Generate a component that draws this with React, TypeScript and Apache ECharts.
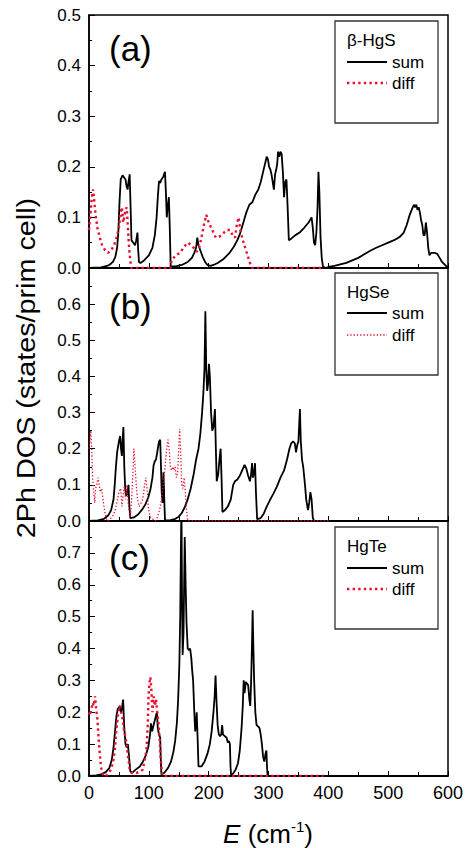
import React, { useEffect, useRef } from "react";
import * as echarts from "echarts";

const FONT = "'Liberation Sans', Arial, Helvetica, sans-serif";
const RED = "#e8102e";

// Panel titles / legend labels
const panelLabels = ["(a)", "(b)", "(c)"];
const materials = ["β-HgS", "HgSe", "HgTe"];
const seriesNames = ["sum", "diff"];
const yMax = [0.5, 0.7, 0.8];
const xTicks = [0, 100, 200, 300, 400, 500, 600];

// (a) beta-HgS
const hgsSum: number[][] = [
  [0, 0], [20, 0.001], [30, 0.004], [35, 0.007], [40, 0.012], [44, 0.022], [47, 0.04], [49, 0.07], [51, 0.13], [53, 0.175],
  [56, 0.183], [58, 0.18], [61, 0.175], [63, 0.16], [64.5, 0.155], [66, 0.17], [68, 0.185], [69.5, 0.12], [71, 0.055], [74, 0.05],
  [77, 0.045], [79, 0.055], [81, 0.07], [82, 0.04], [83.5, 0.012], [86, 0.01], [92, 0.015], [100, 0.025], [106, 0.04], [110, 0.065],
  [113, 0.1], [115, 0.14], [117, 0.172], [119, 0.168], [121, 0.175], [124, 0.18], [127, 0.19], [128.5, 0.15], [130, 0.1], [131.5, 0.12],
  [133.5, 0.14], [135, 0.08], [136.5, 0.003], [145, 0.003], [155, 0.006], [165, 0.012], [172, 0.02], [176, 0.03], [179, 0.04], [181, 0.06],
  [183, 0.045], [186, 0.035], [190, 0.022], [194, 0.012], [198, 0.006], [203, 0.004], [208, 0.006], [215, 0.01], [225, 0.018], [235, 0.03],
  [242, 0.042], [248, 0.055], [253, 0.07], [258, 0.09], [263, 0.11], [268, 0.125], [273, 0.13], [278, 0.145], [283, 0.155], [287, 0.17],
  [291, 0.19], [294, 0.205], [297, 0.22], [299, 0.215], [301, 0.2], [303, 0.195], [305, 0.185], [307, 0.17], [309, 0.155], [311, 0.185],
  [313, 0.195], [314.5, 0.205], [316, 0.23], [318, 0.22], [320, 0.23], [322, 0.225], [324, 0.19], [326, 0.14], [328, 0.17], [330, 0.175],
  [332, 0.12], [334, 0.055], [338, 0.058], [345, 0.065], [352, 0.07], [360, 0.08], [367, 0.09], [372, 0.1], [374, 0.08], [376, 0.05],
  [378, 0.045], [380, 0.07], [382, 0.12], [383.5, 0.19], [385, 0.15], [387, 0.06], [389, 0.02], [391, 0.003], [395, 0], [400, 0.002],
  [410, 0.004], [420, 0.007], [430, 0.01], [440, 0.015], [450, 0.02], [460, 0.027], [470, 0.034], [480, 0.04], [490, 0.045], [500, 0.05],
  [510, 0.055], [520, 0.062], [526, 0.07], [531, 0.085], [536, 0.105], [540, 0.117], [543, 0.125], [545, 0.12], [547, 0.125], [549, 0.115],
  [551, 0.12], [553, 0.11], [555, 0.095], [557, 0.085], [559, 0.065], [561, 0.065], [563, 0.09], [565, 0.07], [567, 0.04], [569, 0.025],
  [572, 0.03], [578, 0.03], [582, 0.028], [586, 0.02], [590, 0.012], [595, 0.006], [600, 0],
];
const hgsDiff: number[][] = [
  [0, 0.075], [2, 0.1], [4, 0.13], [6, 0.15], [7, 0.155], [9, 0.13], [11, 0.105], [14, 0.08], [18, 0.06], [22, 0.045],
  [27, 0.035], [32, 0.03], [37, 0.035], [42, 0.045], [46, 0.06], [50, 0.08], [53, 0.11], [55, 0.12], [57, 0.09], [59, 0.1],
  [61, 0.115], [63, 0.12], [65, 0.08], [67, 0.04], [69, 0.015], [71, 0], [136, 0], [138, 0.015], [145, 0.025], [152, 0.03],
  [158, 0.04], [163, 0.048], [166, 0.05], [170, 0.045], [175, 0.04], [180, 0.032], [184, 0.04], [188, 0.06], [192, 0.085], [196, 0.105],
  [200, 0.09], [204, 0.08], [208, 0.07], [212, 0.06], [218, 0.062], [224, 0.068], [230, 0.075], [236, 0.075], [240, 0.065], [244, 0.06],
  [247, 0.085], [250, 0.1], [253, 0.075], [257, 0.055], [261, 0.04], [265, 0.025], [269, 0.01], [273, 0], [392, 0],
];

// (b) HgSe
const hgseSum: number[][] = [
  [0, 0], [15, 0.002], [25, 0.006], [32, 0.015], [37, 0.03], [41, 0.06], [43, 0.1], [45, 0.15], [47, 0.19], [48, 0.2],
  [50, 0.22], [52, 0.235], [53.5, 0.2], [55, 0.18], [56, 0.22], [57.5, 0.26], [59, 0.15], [60.5, 0.09], [62, 0.07], [64, 0.075],
  [66, 0.1], [67.5, 0.04], [69, 0.008], [75, 0.01], [82, 0.018], [88, 0.03], [94, 0.045], [99, 0.065], [103, 0.09], [106, 0.12],
  [108, 0.155], [110, 0.165], [112, 0.17], [114, 0.19], [117, 0.22], [119, 0.225], [120.5, 0.14], [121.5, 0.08], [123, 0.05], [124.5, 0.135],
  [126, 0.05], [127, 0.002], [135, 0.002], [143, 0.005], [150, 0.012], [155, 0.022], [160, 0.038], [165, 0.06], [170, 0.09], [175, 0.13],
  [179, 0.17], [183, 0.2], [186, 0.24], [189, 0.3], [191, 0.35], [193, 0.42], [194.5, 0.58], [196, 0.42], [197.5, 0.36], [199, 0.38],
  [200.5, 0.435], [202, 0.4], [204, 0.3], [206, 0.25], [208, 0.26], [210.5, 0.31], [212, 0.2], [213.5, 0.11], [216, 0.13], [218, 0.17],
  [220, 0.2], [221.5, 0.12], [223, 0.025], [227, 0.03], [232, 0.04], [237, 0.06], [241, 0.1], [244, 0.11], [248, 0.115], [252, 0.125],
  [256, 0.14], [260, 0.155], [263, 0.145], [266, 0.125], [269, 0.11], [271, 0.13], [272.5, 0.16], [274, 0.12], [276, 0.135], [277.5, 0.16],
  [279, 0.08], [281, 0.005], [287, 0.008], [292, 0.02], [297, 0.04], [303, 0.06], [308, 0.075], [314, 0.095], [320, 0.12], [326, 0.14],
  [331, 0.17], [335, 0.2], [338, 0.215], [341, 0.22], [344, 0.215], [346, 0.19], [348, 0.21], [350, 0.22], [352.5, 0.31], [354, 0.22],
  [356, 0.17], [358, 0.15], [361, 0.1], [363, 0.06], [366, 0.03], [368, 0.05], [370, 0.08], [372, 0.06], [374, 0.01], [376, 0], [600, 0],
];
const hgseDiff: number[][] = [
  [0, 0.2], [1.5, 0.22], [3, 0.25], [4.5, 0.2], [6, 0.12], [8, 0.08], [9.5, 0.05], [11, 0.09], [13, 0.1], [15, 0.12],
  [17, 0.1], [19, 0.08], [21, 0.09], [23, 0.065], [25, 0.04], [27, 0.02], [29, 0.005], [31, 0], [35, 0.005], [40, 0.015],
  [44, 0.03], [47, 0.055], [50, 0.08], [53, 0.09], [55, 0.04], [57, 0.07], [59, 0.095], [61, 0.06], [63, 0.1], [65, 0.06],
  [67, 0.03], [69, 0.01], [71, 0.05], [73, 0.12], [75, 0.2], [77, 0.15], [79, 0.1], [81, 0.06], [84, 0.04], [87, 0.05],
  [90, 0.06], [93, 0.1], [95, 0.12], [97, 0.09], [99, 0.04], [101, 0.02], [103, 0.01], [107, 0.005], [111, 0], [114, 0.01],
  [118, 0.03], [121, 0.06], [124, 0.1], [127, 0.15], [130, 0.2], [132, 0.225], [134, 0.2], [136, 0.15], [138, 0.14], [140, 0.15],
  [142, 0.14], [144, 0.15], [146, 0.12], [148, 0.13], [150, 0.2], [151.5, 0.255], [153, 0.2], [155, 0.1], [157, 0.09], [159, 0.12],
  [161, 0.08], [163, 0.03], [165, 0], [400, 0],
];

// (c) HgTe
const hgteSum: number[][] = [
  [0, 0], [12, 0.002], [20, 0.005], [28, 0.012], [34, 0.025], [38, 0.05], [41, 0.09], [44, 0.15], [46, 0.19], [48, 0.21],
  [50, 0.215], [52, 0.22], [53.5, 0.2], [55, 0.21], [57, 0.24], [59, 0.15], [61, 0.1], [63, 0.09], [65, 0.1], [66.5, 0.07],
  [69, 0.015], [72, 0.01], [78, 0.02], [85, 0.03], [90, 0.045], [95, 0.065], [99, 0.09], [102, 0.13], [103.5, 0.165], [105.5, 0.14],
  [108, 0.16], [110, 0.175], [112, 0.19], [113.5, 0.2], [115, 0.15], [117, 0.13], [119, 0.12], [120, 0.05], [121, 0.005], [126, 0.01],
  [132, 0.025], [137, 0.045], [141, 0.075], [144, 0.11], [147, 0.17], [149, 0.24], [151, 0.35], [152.5, 0.5], [153.5, 0.7], [154.5, 0.85],
  [155.5, 0.55], [156.5, 0.38], [158, 0.45], [159, 0.6], [160, 0.75], [161.5, 0.6], [163, 0.48], [165, 0.4], [167, 0.395], [169, 0.4],
  [171, 0.37], [172.5, 0.33], [174, 0.3], [176, 0.2], [177.5, 0.14], [179, 0.17], [180, 0.2], [181.5, 0.12], [183, 0.03], [188, 0.03],
  [193, 0.045], [198, 0.07], [202, 0.1], [205, 0.14], [208, 0.2], [210, 0.25], [211.5, 0.315], [213, 0.24], [215, 0.16], [217, 0.13],
  [219, 0.125], [221, 0.13], [222.5, 0.16], [224, 0.13], [227, 0.125], [230, 0.12], [232, 0.105], [234, 0.11], [235.5, 0.1], [236.5, 0.03],
  [237.5, 0.002], [241, 0.008], [245, 0.02], [249, 0.04], [252, 0.08], [255, 0.15], [257, 0.22], [258.5, 0.3], [260, 0.26], [262, 0.295],
  [264, 0.29], [266, 0.285], [268, 0.24], [269.5, 0.22], [271, 0.3], [272.5, 0.42], [273.5, 0.52], [274.5, 0.42], [276, 0.3], [278, 0.2],
  [280, 0.16], [283, 0.155], [285, 0.15], [287, 0.13], [289, 0.1], [291, 0.06], [293, 0.045], [295, 0.07], [296.5, 0.08], [297.5, 0.03],
  [298.5, 0], [600, 0],
];
const hgteDiff: number[][] = [
  [0, 0.2], [2, 0.19], [4, 0.21], [6, 0.23], [8, 0.22], [10, 0.25], [12, 0.21], [14, 0.18], [16, 0.12], [18, 0.07],
  [20, 0.03], [22, 0.01], [24, 0], [30, 0.003], [35, 0.015], [40, 0.04], [43, 0.08], [46, 0.15], [49, 0.2], [52, 0.22],
  [54, 0.2], [56, 0.18], [58, 0.15], [60, 0.13], [62, 0.11], [64, 0.08], [66, 0.05], [68, 0.02], [71, 0.01], [75, 0.008],
  [80, 0.01], [86, 0.015], [90, 0.02], [93, 0.05], [96, 0.08], [98, 0.15], [99.5, 0.25], [101, 0.29], [102.5, 0.31], [104, 0.28],
  [106, 0.2], [108, 0.25], [110, 0.22], [112, 0.24], [114, 0.2], [116, 0.17], [118, 0.12], [120, 0.05], [122, 0.01], [124, 0],
  [392, 0],
];

const sums = [hgsSum, hgseSum, hgteSum];
const diffs = [hgsDiff, hgseDiff, hgteDiff];

export default function App() {
  const ref = useRef<HTMLDivElement>(null);
  useEffect(() => {
    if (!ref.current) return;
    const chart = echarts.init(ref.current, undefined, { renderer: "svg" });

    const grids = [
      { left: 89, right: 23, top: 15, height: 253 },
      { left: 89, right: 23, top: 268, height: 253 },
      { left: 89, right: 23, top: 521, height: 255 },
    ].map((g) => ({ ...g, show: true, borderColor: "#000", borderWidth: 1.5, backgroundColor: "transparent" }));

    const xAxes = grids.map((_, i) => ({
      type: "value",
      gridIndex: i,
      min: xTicks[0],
      max: xTicks[xTicks.length - 1],
      interval: 100,
      axisLine: { show: true, lineStyle: { color: "#000", width: 1.5 } },
      axisTick: { show: true, inside: true, length: 5, lineStyle: { color: "#000", width: 1 } },
      minorTick: { show: true, splitNumber: 2, length: 4, lineStyle: { color: "#000", width: 1 } },
      splitLine: { show: false },
      axisLabel: {
        show: i === 2,
        color: "#000",
        fontSize: 18,
        fontFamily: FONT,
        margin: 8,
      },
    }));

    const yAxes = grids.map((_, i) => ({
      type: "value",
      gridIndex: i,
      min: 0,
      max: yMax[i],
      interval: 0.1,
      axisLine: { show: true, lineStyle: { color: "#000", width: 1.5 } },
      axisTick: { show: true, inside: true, length: 6, lineStyle: { color: "#000", width: 1 } },
      minorTick: { show: true, splitNumber: 2, length: 3, lineStyle: { color: "#000", width: 1 } },
      splitLine: { show: false },
      axisLabel: {
        show: true,
        color: "#000",
        fontSize: 17,
        fontFamily: FONT,
        margin: 8,
        showMaxLabel: i === 0,
        formatter: (v: number) => v.toFixed(1),
      },
    }));

    const series: any[] = [];
    grids.forEach((_, i) => {
      series.push({
        name: seriesNames[0],
        type: "line",
        xAxisIndex: i,
        yAxisIndex: i,
        data: sums[i],
        showSymbol: false,
        clip: true,
        lineStyle: { color: "#000", width: 1.8 },
        z: 3,
      });
      series.push({
        name: seriesNames[1],
        type: "line",
        xAxisIndex: i,
        yAxisIndex: i,
        data: diffs[i],
        showSymbol: false,
        clip: true,
        lineStyle:
          i === 1
            ? { color: RED, width: 1.3, type: [1.3, 2] }
            : { color: RED, width: 2.4, type: [2.4, 3.2] },
        z: 4,
      });
    });

    const legendBoxes = [
      { top: 21, title: 40, sum: 62, diff: 83 },
      { top: 273, title: 292, sum: 313, diff: 335 },
      { top: 527, title: 546, sum: 568, diff: 589 },
    ];
    const labelY = [48, 306, 557];

    const graphic: any[] = [];
    legendBoxes.forEach((b, i) => {
      graphic.push({
        type: "rect",
        shape: { x: 335, y: b.top, width: 103, height: 102 },
        style: { fill: "#fff", stroke: "#333", lineWidth: 1.3 },
        z: 10,
      });
      graphic.push({
        type: "text",
        x: 347,
        y: b.title,
        style: { text: materials[i], fontSize: 17, fontFamily: FONT, fill: "#000", verticalAlign: "middle", textVerticalAlign: "middle" },
        z: 11,
      });
      graphic.push({
        type: "line",
        shape: { x1: 347, y1: b.sum, x2: 387, y2: b.sum },
        style: { stroke: "#000", lineWidth: 1.8 },
        z: 11,
      });
      graphic.push({
        type: "line",
        shape: { x1: 347, y1: b.diff, x2: 387, y2: b.diff },
        style: i === 1
          ? { stroke: RED, lineWidth: 1.3, lineDash: [1.3, 2] }
          : { stroke: RED, lineWidth: 2.4, lineDash: [2.4, 3.2] },
        z: 11,
      });
      graphic.push({
        type: "text",
        x: 392,
        y: b.sum,
        style: { text: seriesNames[0], fontSize: 17, fontFamily: FONT, fill: "#000", verticalAlign: "middle", textVerticalAlign: "middle" },
        z: 11,
      });
      graphic.push({
        type: "text",
        x: 392,
        y: b.diff,
        style: { text: seriesNames[1], fontSize: 17, fontFamily: FONT, fill: "#000", verticalAlign: "middle", textVerticalAlign: "middle" },
        z: 11,
      });
      graphic.push({
        type: "text",
        x: 109,
        y: labelY[i],
        style: { text: panelLabels[i], fontSize: 35, fontFamily: FONT, fill: "#000", verticalAlign: "middle", textVerticalAlign: "middle" },
        z: 11,
      });
    });

    graphic.push({
      type: "text",
      x: 27,
      y: 368,
      rotation: Math.PI / 2,
      scaleX: 1.15,
      style: {
        text: "2Ph DOS (states/prim cell)",
        fontSize: 25,
        fontFamily: FONT,
        fill: "#000",
        align: "center",
        textAlign: "center",
        verticalAlign: "middle",
        textVerticalAlign: "middle",
      },
    });

    graphic.push({
      type: "text",
      x: 268,
      y: 834,
      style: {
        text: "{i|E} (cm{s|-1})",
        fontSize: 26,
        fontFamily: FONT,
        fill: "#000",
        align: "center",
        textAlign: "center",
        verticalAlign: "middle",
        textVerticalAlign: "middle",
        rich: {
          i: { fontStyle: "italic", fontSize: 26, fontFamily: FONT, lineHeight: 30 },
          s: { fontSize: 15, fontFamily: FONT, verticalAlign: "top", lineHeight: 15 },
        },
      },
    });

    chart.setOption({
      animation: false,
      backgroundColor: "#fff",
      grid: grids,
      xAxis: xAxes,
      yAxis: yAxes,
      series,
      graphic,
    });
    return () => chart.dispose();
  }, []);

  return (
    <div
      ref={ref}
      style={{ position: "fixed", left: 0, top: 0, width: 471, height: 848, background: "#fff" }}
    />
  );
}
